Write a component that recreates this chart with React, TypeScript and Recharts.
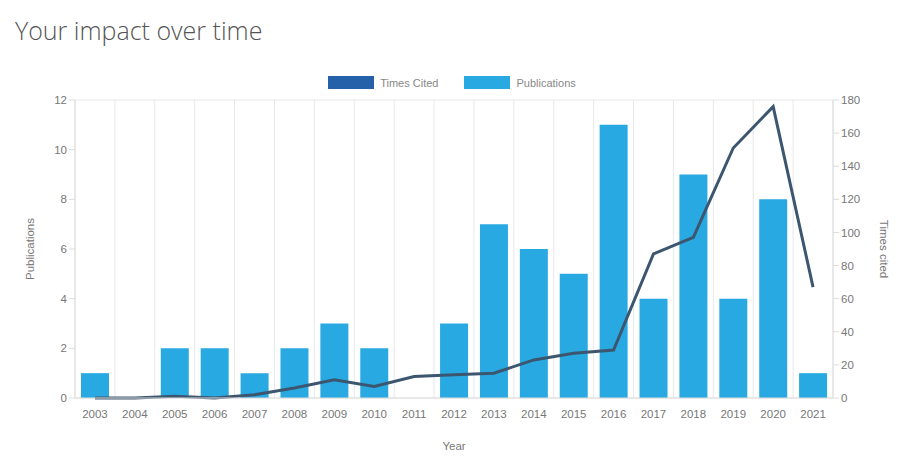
import { ComposedChart, Bar, Line, XAxis, YAxis, CartesianGrid, Legend } from 'recharts';

const years = ['2003', '2004', '2005', '2006', '2007', '2008', '2009', '2010', '2011', '2012', '2013', '2014', '2015', '2016', '2017', '2018', '2019', '2020', '2021'];
const publications = [1, 0, 2, 2, 1, 2, 3, 2, 0, 3, 7, 6, 5, 11, 4, 9, 4, 8, 1];
const timesCited = [0, 0, 1, 0, 2, 6, 11, 7, 13, 14, 15, 23, 27, 29, 87, 97, 151, 176, 67];
const pubTicks = [0, 2, 4, 6, 8, 10, 12];
const citedTicks = [0, 20, 40, 60, 80, 100, 120, 140, 160, 180];

const data = years.map((year, i) => ({ year, publications: publications[i], cited: timesCited[i] }));

const legendItems = [
  { label: 'Times Cited', color: '#2561a8' },
  { label: 'Publications', color: '#29a9e1' },
];

function ChartLegend() {
  return (
    <div style={{ display: 'flex', justifyContent: 'center', alignItems: 'center', gap: 26, fontSize: 11, color: '#888', marginLeft: -14 }}>
      {legendItems.map((item) => (
        <div key={item.label} style={{ display: 'flex', alignItems: 'center', gap: 6 }}>
          <span style={{ display: 'inline-block', width: 46, height: 13, background: item.color }} />
          <span>{item.label}</span>
        </div>
      ))}
    </div>
  );
}

const tickStyle = { fill: '#777', fontSize: 11.5 };

export default function App() {
  return (
    <div style={{ position: 'absolute', left: 0, top: 0, width: 903, height: 472, background: '#fff', fontFamily: '"Liberation Sans", Arial, sans-serif' }}>
      <div style={{ position: 'absolute', left: 15, top: 13, fontSize: 25, fontWeight: 300, color: '#555', fontFamily: '"Open Sans", sans-serif' }}>
        Your impact over time
      </div>
      <ComposedChart width={903} height={472} data={data} margin={{ top: 87, right: 15, left: 30, bottom: 34 }}>
        <Legend verticalAlign="top" content={() => <ChartLegend />} wrapperStyle={{ top: 76 }} />
        <CartesianGrid
          stroke="#e8e8e8"
          verticalCoordinatesGenerator={({ offset }: any) =>
            years.map((_, i) => offset.left + (i * offset.width) / years.length).concat(offset.left + offset.width)
          }
        />
        <XAxis
          dataKey="year"
          tickLine={false}
          axisLine={{ stroke: '#ddd' }}
          tick={tickStyle}
          tickMargin={6}
          interval={0}
          height={40}
          label={{ value: 'Year', position: 'insideBottom', offset: -12, style: { fill: '#777', fontSize: 11.5 } }}
        />
        <YAxis
          yAxisId="pub"
          domain={[0, 12]}
          ticks={pubTicks}
          width={45}
          tick={tickStyle}
          tickLine={{ stroke: '#ddd' }}
          axisLine={{ stroke: '#ddd' }}
          label={{ value: 'Publications', angle: -90, position: 'insideLeft', offset: 0, style: { textAnchor: 'middle', fill: '#777', fontSize: 11.5 } }}
        />
        <YAxis
          yAxisId="cited"
          orientation="right"
          domain={[0, 180]}
          ticks={citedTicks}
          width={55}
          tick={tickStyle}
          tickLine={{ stroke: '#ddd' }}
          axisLine={{ stroke: '#ddd' }}
          label={{ value: 'Times cited', angle: 90, position: 'insideRight', offset: 4, style: { textAnchor: 'middle', fill: '#777', fontSize: 11.5 } }}
        />
        <Bar yAxisId="pub" dataKey="publications" fill="#29a9e1" barSize={28} isAnimationActive={false} />
        <Line yAxisId="cited" type="linear" dataKey="cited" stroke="#3d5670" strokeWidth={3} dot={false} isAnimationActive={false} />
      </ComposedChart>
    </div>
  );
}
